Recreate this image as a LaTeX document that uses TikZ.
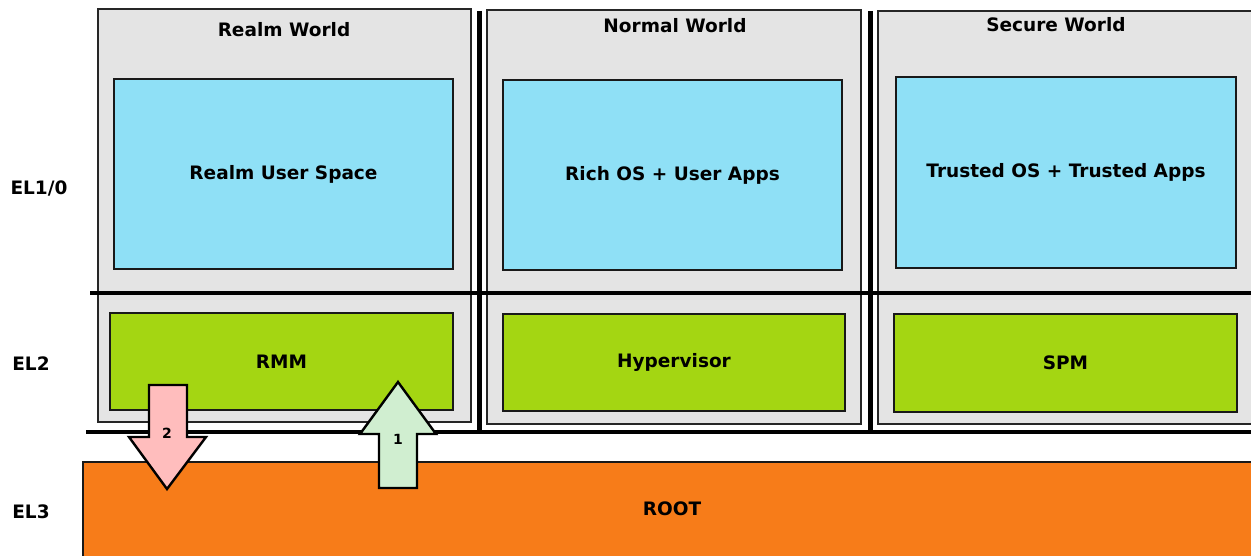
\documentclass[tikz,border=0pt]{standalone}
\usepackage{fontspec}
\setmainfont{DejaVu Sans}
\begin{document}
\begin{tikzpicture}[x=1pt,y=-1pt,
  world/.style={draw=black!85, line width=2pt, fill=worldgray, rectangle, inner sep=0pt},
  user/.style={draw=black!90, line width=2.4pt, fill=userblue, rectangle, inner sep=0pt, font=\bfseries\fontsize{18.5}{22}\selectfont},
  hyp/.style={draw=black!90, line width=2.4pt, fill=hypgreen, rectangle, inner sep=0pt, font=\bfseries\fontsize{18.5}{22}\selectfont},
  lbl/.style={font=\bfseries\fontsize{18.5}{22}\selectfont},
  sep/.style={line width=4.5pt, black},
  blockarrow/.style={draw=black, line width=2.4pt, line join=miter},
  num/.style={font=\bfseries\fontsize{14}{16}\selectfont}]
\definecolor{worldgray}{HTML}{E4E4E4}
\definecolor{userblue}{HTML}{8FE0F6}
\definecolor{hypgreen}{HTML}{A4D612}
\definecolor{rootorange}{HTML}{F77C19}
\definecolor{pinkarrow}{HTML}{FFBDBD}
\definecolor{greenarrow}{HTML}{D0EED0}
\useasboundingbox (0,0) rectangle (1251,556);
% worlds
\node[world, minimum width=373pt, minimum height=413pt] (realm) at (284.5,215.5) {};
\node[world, minimum width=374pt, minimum height=414pt] (normal) at (674,217) {};
\node[world, minimum width=375pt, minimum height=413pt] (secure) at (1065.5,217.5) {};
\node[lbl] (realmT) at (284,30) {Realm World};
\node[lbl] (normalT) at (675,26) {Normal World};
\node[lbl] (secureT) at (1056,25) {Secure World};
% EL1/0
\node[user, minimum width=339pt, minimum height=190pt] (rus) at (283.5,174) {Realm User Space};
\node[user, minimum width=339pt, minimum height=190pt] (rich) at (672.5,175) {Rich OS + User Apps};
\node[user, minimum width=340pt, minimum height=191pt] (tos) at (1066,172.5) {Trusted OS + Trusted Apps};
% EL2
\node[hyp, minimum width=343pt, minimum height=97pt] (rmm) at (281.5,361.5) {RMM};
\node[hyp, minimum width=342pt, minimum height=97pt] (hv) at (674,362.5) {Hypervisor};
\node[hyp, minimum width=343pt, minimum height=98pt] (spm) at (1065.5,363) {SPM};
% separator lines
\coordinate (h1a) at (90,293); \coordinate (h1b) at (1255,293);
\coordinate (h2a) at (86,432); \coordinate (h2b) at (1255,432);
\coordinate (v1a) at (479.5,11); \coordinate (v1b) at (479.5,432);
\coordinate (v2a) at (870.5,11); \coordinate (v2b) at (870.5,432);
\draw[sep] (h1a) -- (h1b);
\draw[sep] (h2a) -- (h2b);
\draw[sep] (v1a) -- (v1b);
\draw[sep] (v2a) -- (v2b);
% EL3
\node[draw=black!90, line width=2.4pt, fill=rootorange, rectangle, inner sep=0pt, minimum width=1174pt, minimum height=98pt] (root) at (670,511) {};
\node[lbl] (rootT) at (672,509) {ROOT};
% level labels
\node[lbl] (el10) at (39,188) {EL1/0};
\node[lbl] (el2) at (31,364) {EL2};
\node[lbl] (el3) at (31,512) {EL3};
% arrows
\draw[blockarrow, fill=pinkarrow] (149,385) -- (187,385) -- (187,437) -- (206,437) -- (167,489) -- (129,437) -- (149,437) -- cycle;
\node[num] (n2) at (167,433) {2};
\draw[blockarrow, fill=greenarrow] (398,382) -- (436,434) -- (417,434) -- (417,488) -- (379,488) -- (379,434) -- (360,434) -- cycle;
\node[num] (n1) at (398,439) {1};
\end{tikzpicture}
\end{document}
